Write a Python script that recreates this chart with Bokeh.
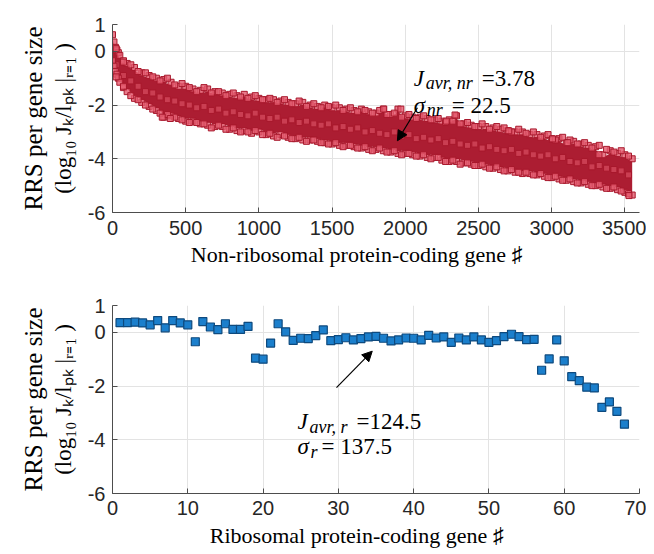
from bokeh.plotting import figure
from bokeh.layouts import column
from bokeh.models import Range1d, FixedTicker, Label, Arrow, NormalHead, ColumnDataSource, LinearAxis
from bokeh.embed import file_html
from bokeh.resources import INLINE

# ---------------- data ----------------
# Non-ribosomal genes: upper / lower edge of the dense cloud
nr_gene = [0, 10, 20, 30, 40, 50, 75, 100, 150, 200, 250, 300, 350, 400, 450, 500, 550, 600,
           650, 700, 750, 800, 850, 900, 950, 1000, 1050, 1100, 1150, 1200, 1250, 1300, 1350,
           1400, 1450, 1500, 1550, 1600, 1650, 1700, 1750, 1800, 1850, 1900, 1950, 2000, 2050,
           2100, 2150, 2200, 2250, 2300, 2350, 2400, 2450, 2500, 2550, 2600, 2650, 2700, 2750,
           2800, 2850, 2900, 2950, 3000, 3050, 3100, 3150, 3200, 3250, 3300, 3350, 3400, 3450,
           3500, 3550]
nr_upper = [0.62, 0.35, 0.15, 0.05, -0.05, -0.15, -0.35, -0.45, -0.6, -0.8, -0.9, -1.0, -1.05,
            -1.15, -1.3, -1.3, -1.4, -1.45, -1.4, -1.5, -1.55, -1.6, -1.65, -1.6, -1.7, -1.75,
            -1.8, -1.8, -1.85, -1.9, -1.95, -1.9, -2.0, -2.05, -2.0, -2.1, -2.1, -2.15, -2.2,
            -2.15, -2.25, -2.3, -2.15, -2.35, -2.15, -2.4, -2.45, -2.45, -2.5, -2.55, -2.6,
            -2.55, -2.4, -2.7, -2.75, -2.8, -2.8, -2.85, -2.9, -2.95, -3.0, -3.0, -3.1, -3.1,
            -3.15, -3.25, -3.25, -3.4, -3.35, -3.45, -3.5, -3.55, -3.85, -3.7, -3.8, -3.85, -4.0]
nr_lower = [-0.35, -0.55, -0.75, -0.85, -1.0, -1.15, -1.35, -1.5, -1.75, -1.9, -2.05, -2.2,
            -2.45, -2.4, -2.5, -2.6, -2.6, -2.7, -2.75, -2.8, -2.8, -2.9, -2.95, -2.95, -3.05,
            -3.0, -3.1, -3.15, -3.1, -3.2, -3.25, -3.3, -3.3, -3.35, -3.4, -3.45, -3.5, -3.5,
            -3.55, -3.6, -3.65, -3.65, -3.7, -3.75, -3.8, -3.8, -3.85, -3.9, -3.95, -3.95,
            -4.05, -4.1, -4.1, -4.15, -4.2, -4.25, -4.3, -4.35, -4.4, -4.45, -4.5, -4.55, -4.55,
            -4.6, -4.65, -4.7, -4.75, -4.8, -4.85, -4.9, -4.95, -5.0, -5.05, -5.1, -5.15, -5.25,
            -5.35]
# second set of columns (between the first ones): upper edge, interior, lower edge
nr_gene2 = [25, 75, 125, 175, 225, 275, 325, 375, 425, 475, 525, 575, 625, 675, 725, 775, 825,
            875, 925, 975, 1025, 1075, 1125, 1175, 1225, 1275, 1325, 1375, 1425, 1475, 1525,
            1575, 1625, 1675, 1725, 1775, 1825, 1875, 1925, 1975, 2025, 2075, 2125, 2175, 2225,
            2275, 2325, 2375, 2425, 2475, 2525, 2575, 2625, 2675, 2725, 2775, 2825, 2875, 2925,
            2975, 3025, 3075, 3125, 3175, 3225, 3275, 3325, 3375, 3425, 3475, 3525]
nr_upper2 = [0.1, -0.4, -0.5, -0.75, -0.8, -0.95, -1.1, -1.0, -1.25, -1.2, -1.35, -1.5, -1.35,
             -1.55, -1.5, -1.65, -1.55, -1.7, -1.75, -1.65, -1.8, -1.75, -1.9, -1.8, -1.95,
             -1.85, -2.05, -1.95, -2.1, -2.05, -2.0, -2.2, -2.1, -2.25, -2.2, -2.3, -2.2, -2.35,
             -2.3, -2.45, -2.35, -2.5, -2.4, -2.55, -2.5, -2.65, -2.6, -2.7, -2.65, -2.8, -2.7,
             -2.9, -2.8, -2.85, -3.0, -2.9, -3.05, -3.0, -3.2, -3.1, -3.3, -3.2, -3.3, -3.45,
             -3.4, -3.6, -3.5, -3.65, -3.75, -3.7, -3.9]
nr_mid2 = [-0.5, -0.9, -1.1, -1.3, -1.5, -1.55, -1.7, -1.8, -1.85, -1.95, -2.0, -2.1, -2.05,
           -2.2, -2.15, -2.3, -2.25, -2.35, -2.4, -2.3, -2.45, -2.5, -2.45, -2.6, -2.55, -2.65,
           -2.6, -2.7, -2.75, -2.7, -2.85, -2.8, -2.9, -2.85, -3.0, -2.95, -3.05, -3.1, -3.0,
           -3.15, -3.1, -3.25, -3.2, -3.3, -3.25, -3.4, -3.35, -3.45, -3.5, -3.45, -3.6, -3.55,
           -3.65, -3.7, -3.65, -3.8, -3.75, -3.85, -3.9, -3.85, -4.0, -3.95, -4.1, -4.15, -4.1,
           -4.3, -4.25, -4.35, -4.4, -4.45, -4.6]
nr_lower2 = [-0.95, -1.3, -1.65, -1.8, -2.0, -2.15, -2.3, -2.35, -2.45, -2.55, -2.65, -2.65,
             -2.7, -2.85, -2.75, -2.9, -2.85, -3.0, -3.0, -2.95, -3.1, -3.05, -3.2, -3.15,
             -3.25, -3.2, -3.35, -3.3, -3.4, -3.45, -3.4, -3.55, -3.5, -3.6, -3.55, -3.7, -3.6,
             -3.75, -3.7, -3.85, -3.8, -3.9, -3.85, -4.0, -3.95, -4.1, -4.05, -4.2, -4.15,
             -4.25, -4.2, -4.35, -4.3, -4.45, -4.4, -4.5, -4.5, -4.6, -4.55, -4.7, -4.65, -4.8,
             -4.75, -4.9, -4.85, -5.0, -4.95, -5.1, -5.05, -5.2, -5.3]
# isolated points outside the dense cloud
nr_out_gene = [340, 395, 1853, 1970, 2280, 2340, 2707, 3006, 3110, 3323, 3528]
nr_out_val = [-2.45, -2.5, -2.15, -2.15, -2.6, -2.37, -2.96, -3.26, -3.4, -3.85, -5.37]

# Ribosomal genes 1..68
r_gene = list(range(1, 69))
r_val = [0.36, 0.36, 0.38, 0.35, 0.28, 0.44, 0.17, 0.44, 0.35, 0.28,
         -0.35, 0.40, 0.20, 0.10, 0.32, 0.11, 0.11, 0.22, -0.96, -1.00,
         -0.40, 0.32, 0.02, -0.30, -0.22, -0.23, -0.12, 0.09, -0.31, -0.27,
         -0.20, -0.28, -0.23, -0.17, -0.15, -0.22, -0.32, -0.28, -0.21, -0.22,
         -0.28, -0.11, -0.21, -0.17, -0.37, -0.21, -0.28, -0.17, -0.28, -0.37,
         -0.31, -0.16, -0.07, -0.16, -0.27, -0.26, -1.41, -0.99, -0.28, -1.06,
         -1.65, -1.80, -2.04, -2.07, -2.79, -2.59, -2.94, -3.42]

y_ticks = [-6, -4, -2, 0, 1]
x_ticks_top = [0, 500, 1000, 1500, 2000, 2500, 3000, 3500]
x_ticks_bot = [0, 10, 20, 30, 40, 50, 60, 70]

ylab1 = "RRS per gene size"
ylab2 = "(log₁₀ Jₖ/lₚₖ |ᵣ₌₁ )"
NB = "\u00a0" * 7
xlab_top = "Non-ribosomal protein-coding gene ♯" + NB
xlab_bot = "Ribosomal protein-coding gene ♯" + NB

# ---------------- styling ----------------
FRAME_W, FRAME_H = 527, 188
SERIF = "Liberation Serif"
SANS = "Liberation Sans"
TXT = "#262626"


def style(p, xt, xlabel, tick_standoff, label_standoff):
    p.outline_line_color = None
    p.background_fill_color = "white"
    p.border_fill_color = "white"
    for ax in (p.xaxis[0], p.yaxis[0]):
        ax.axis_line_color = "#4d4d4d"
        ax.axis_line_width = 1
        ax.major_tick_line_color = "#4d4d4d"
        ax.major_tick_in = 5
        ax.major_tick_out = 0
        ax.minor_tick_line_color = None
        ax.major_label_text_font = SANS
        ax.major_label_text_font_size = "20px"
        ax.major_label_text_color = TXT
        ax.axis_label_text_font = SERIF
        ax.axis_label_text_font_style = "normal"
        ax.axis_label_text_color = "black"
    p.xaxis[0].ticker = FixedTicker(ticks=xt)
    p.yaxis[0].ticker = FixedTicker(ticks=y_ticks)
    p.yaxis[0].major_label_overrides = {t: str(t) for t in y_ticks}
    p.xaxis[0].major_label_overrides = {t: str(t) for t in xt}
    p.xaxis[0].major_label_standoff = tick_standoff
    p.yaxis[0].major_label_standoff = 7
    p.xaxis[0].axis_label = xlabel
    p.xaxis[0].axis_label_text_font_size = "22px"
    p.xaxis[0].axis_label_standoff = label_standoff
    p.yaxis[0].axis_label = ylab2
    p.yaxis[0].axis_label_text_font_size = "23px"
    p.yaxis[0].axis_label_standoff = 9
    outer = LinearAxis(ticker=FixedTicker(ticks=[]), axis_label=ylab1, axis_line_color=None,
                       major_tick_line_color=None, minor_tick_line_color=None, major_tick_out=0,
                       major_tick_in=0, major_label_standoff=0, axis_label_standoff=1,
                       axis_label_text_font=SERIF, axis_label_text_font_style="normal",
                       axis_label_text_font_size="25px", axis_label_text_color="black")
    p.add_layout(outer, "left")
    p.xgrid.ticker = FixedTicker(ticks=xt)
    p.ygrid.ticker = FixedTicker(ticks=y_ticks)
    for g in (p.xgrid[0], p.ygrid[0]):
        g.grid_line_color = "#e3e3e3"
        g.grid_line_width = 1


def txt(p, x, y, text, size, italic=False):
    p.add_layout(Label(x=x, y=y, text=text, text_font=SERIF, text_font_size=f"{size}px",
                       text_font_style="italic" if italic else "normal", text_align="left",
                       text_baseline="alphabetic", text_color="black"))


def math_line(p, x0, y0, pieces, kx, ky):
    # pieces: (text, dx_px, dy_px_down, size, italic)
    for t, dx, dy, s, it in pieces:
        txt(p, x0 + dx * kx, y0 - dy * ky, t, s, italic=it)


PINK = "#e35a6e"
DARKRED = "#a8182c"

# ---------------- top panel ----------------
p1 = figure(frame_width=FRAME_W, frame_height=FRAME_H, x_range=Range1d(0, 3600), y_range=Range1d(-6, 1),
            output_backend="svg", toolbar_location=None, min_border_left=112, min_border_right=7,
            min_border_top=24, min_border_bottom=73)
style(p1, x_ticks_top, xlab_top, 8, 4)
kx1 = 3600 / FRAME_W
ky1 = 7 / FRAME_H

src_band = ColumnDataSource(dict(x=nr_gene, u=[v - 0.1 for v in nr_upper], l=[v + 0.1 for v in nr_lower]))
p1.varea(x="x", y1="l", y2="u", source=src_band, fill_color="#ac1d32", fill_alpha=1.0)
p1.scatter(nr_gene2, nr_mid2, marker="square", size=6, fill_color=PINK, fill_alpha=0.55,
           line_color=DARKRED, line_width=1)
for gx, vals in ((nr_gene, nr_upper), (nr_gene, nr_lower), (nr_gene2, nr_upper2), (nr_gene2, nr_lower2)):
    p1.scatter(gx, vals, marker="square", size=6, fill_color=PINK, fill_alpha=0.8,
               line_color=DARKRED, line_width=1)
p1.scatter(nr_out_gene, nr_out_val, marker="square", size=6, fill_color=PINK, fill_alpha=0.8,
           line_color=DARKRED, line_width=1)

p1.add_layout(Arrow(x_start=2083, y_start=-2.1, x_end=1946, y_end=-3.33, line_color="black", line_width=1.2,
                    end=NormalHead(size=10, fill_color="black", line_color="black")))
math_line(p1, 2058, -1.0, [("J", 0, 0, 23, True), ("avr, nr", 12, 5, 18, True), ("=3.78", 68, 0, 23, False)], kx1, ky1)
math_line(p1, 2058, -2.0, [("σ", 0, 0, 23, True), ("nr", 13, 5, 18, True), ("= 22.5", 38, 0, 23, False)], kx1, ky1)

# ---------------- bottom panel ----------------
p2 = figure(frame_width=FRAME_W, frame_height=FRAME_H, x_range=Range1d(0, 70), y_range=Range1d(-6, 1),
            output_backend="svg", toolbar_location=None, min_border_left=112, min_border_right=7,
            min_border_top=20, min_border_bottom=60)
style(p2, x_ticks_bot, xlab_bot, 7, 5)
kx2 = 70 / FRAME_W
ky2 = 7 / FRAME_H

p2.scatter(r_gene, r_val, marker="square", size=8, fill_color="#1b7fcc", line_color="#0e4a7e", line_width=1.2)
p2.add_layout(Arrow(x_start=29.75, y_start=-2.06, x_end=34.5, y_end=-0.70, line_color="black", line_width=1.2,
                    end=NormalHead(size=10, fill_color="black", line_color="black")))
math_line(p2, 24.57, -3.33, [("J", 0, 0, 23, True), ("avr, r", 12, 5, 18, True), ("=124.5", 59, 0, 23, False)], kx2, ky2)
math_line(p2, 24.57, -4.26, [("σ", 0, 0, 23, True), ("r", 13, 5, 18, True), ("= 137.5", 24, 0, 23, False)], kx2, ky2)

layout = column(p1, p2, spacing=0)
open("out.html", "w").write(file_html(layout, INLINE))
